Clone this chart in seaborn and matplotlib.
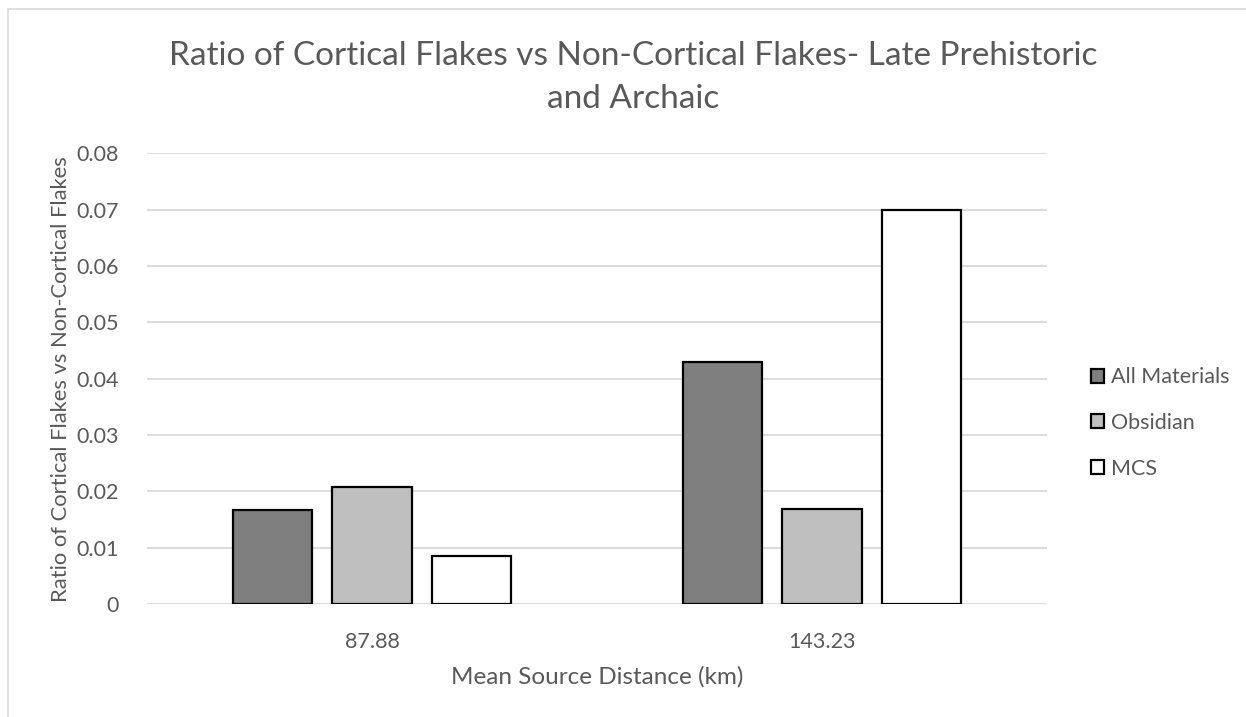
import pandas as pd
import seaborn as sns
import matplotlib.pyplot as plt
from matplotlib.patches import Rectangle, Patch

# chart data
distances = ["87.88", "143.23"]
materials = ["All Materials", "Obsidian", "MCS"]
all_materials = [0.0167, 0.0430]
obsidian = [0.0208, 0.0169]
mcs = [0.0085, 0.0700]
colors = ["#7F7F7F", "#BFBFBF", "#FFFFFF"]
title_lines = ["Ratio of Cortical Flakes vs Non-Cortical Flakes- Late Prehistoric",
               "and Archaic"]

rows = []
for name, vals in zip(materials, [all_materials, obsidian, mcs]):
    for d, v in zip(distances, vals):
        rows.append({"Distance": d, "Material": name, "Ratio": v})
df = pd.DataFrame(rows)

sns.set_theme(style="white")
plt.rcParams['font.family'] = ['Lato', 'DejaVu Sans']
text_col = "#595959"

fig = plt.figure(figsize=(12.46, 7.17), dpi=100)
ax = fig.add_axes([147 / 1246, 1 - 604 / 717, 900 / 1246, (604 - 153.3) / 717])

sns.barplot(data=df, x="Distance", y="Ratio", hue="Material", order=distances,
            hue_order=materials, palette=dict(zip(materials, colors)),
            edgecolor="black", linewidth=1.6, width=0.663, gap=0.2,
            ax=ax, legend=False)

ax.set_ylim(0, 0.08)
ax.set_yticks([i / 100 for i in range(9)])
ax.set_yticklabels(["0"] + [f"{i / 100:.2f}" for i in range(1, 9)])
ax.yaxis.grid(True, color="#D9D9D9", linewidth=1.3)
ax.set_axisbelow(True)
for s in ax.spines.values():
    s.set_visible(False)
ax.tick_params(axis="both", length=0, labelsize=15.5, labelcolor=text_col)
ax.tick_params(axis="y", pad=20)
ax.tick_params(axis="x", pad=20)

ax.set_xlabel("Mean Source Distance (km)", fontsize=17.5, color=text_col, labelpad=10)
ax.set_ylabel("Ratio of Cortical Flakes vs Non-Cortical Flakes", fontsize=15.8,
              color=text_col)
ax.yaxis.set_label_coords(-0.084, 0.5)

# title, two lines as in the reference
fig.text(633 / 1246, 1 - 65 / 717, title_lines[0], ha="center", va="baseline",
         fontsize=24, color=text_col)
fig.text(633 / 1246, 1 - 108.5 / 717, title_lines[1], ha="center", va="baseline",
         fontsize=24, color=text_col)

handles = [Patch(facecolor=c, edgecolor="black", linewidth=1.6) for c in colors]
fig.legend(handles, materials, loc="center left",
           bbox_to_anchor=(1082 / 1246, 1 - 423 / 717), frameon=False,
           fontsize=15.5, labelcolor=text_col, handlelength=0.62, handleheight=0.62,
           handletextpad=0.35, labelspacing=1.2, borderaxespad=0)

# chart area border
fig.patches.append(Rectangle((8 / 1246, -0.02), 1.1, 1 - 9 / 717 + 0.02,
                             transform=fig.transFigure, fill=False,
                             edgecolor="#D9D9D9", linewidth=1.2))

fig.savefig("out.png", dpi=100)
